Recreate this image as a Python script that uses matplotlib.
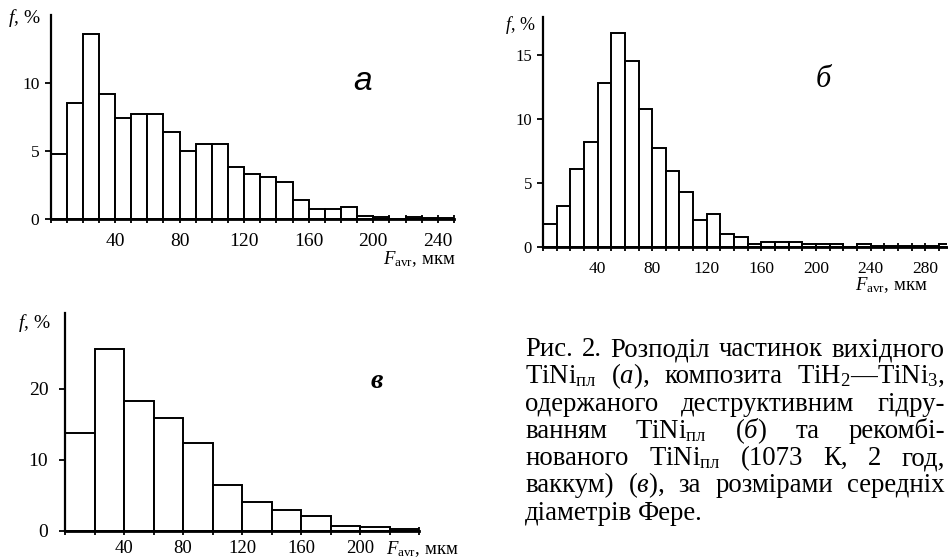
import matplotlib
matplotlib.use("Agg")
import matplotlib.pyplot as plt

plt.rcParams["font.family"] = ["Liberation Serif", "DejaVu Serif"]
plt.rcParams["mathtext.fontset"] = "custom"
plt.rcParams["mathtext.rm"] = "Liberation Serif"
plt.rcParams["mathtext.it"] = "Liberation Serif:italic"
plt.rcParams["mathtext.bf"] = "Liberation Serif:bold"

W, H = 948, 560

# ---- дані ----
# (а) вихідний TiNi, інтервал 10 мкм
a_starts = list(range(0, 250, 10))
a_vals = [4.8, 8.5, 13.6, 9.2, 7.4, 7.7, 7.7, 6.4, 5.0, 5.5, 5.5, 3.8, 3.3,
          3.1, 2.7, 1.4, 0.7, 0.7, 0.85, 0.2, 0.15, 0.0, 0.15, 0.1, 0.05]

# (б) композит TiH2-TiNi3, інтервал 10 мкм
b_starts = list(range(0, 300, 10))
b_vals = [1.8, 3.2, 6.1, 8.2, 12.8, 16.7, 14.5, 10.8, 7.7, 5.9, 4.3, 2.1, 2.6,
          1.0, 0.8, 0.2, 0.4, 0.4, 0.4, 0.2, 0.2, 0.2, 0.0, 0.2, 0.05, 0.05,
          0.05, 0.05, 0.05, 0.2]

# (в) рекомбінований TiNi, інтервал 20 мкм
c_starts = list(range(0, 240, 20))
c_vals = [13.8, 25.6, 18.3, 15.9, 12.4, 6.5, 4.0, 2.9, 2.1, 0.7, 0.5, 0.2]

caption = [
    ["Рис.", "2.", "Розподіл", "частинок", "вихідного"],
    [r"TiNi$_{\mathrm{пл}}$", r"($\mathit{а}$),", "композита", r"TiH$_2$—TiNi$_3$,"],
    ["одержаного", "деструктивним", "гідру-"],
    ["ванням", r"TiNi$_{\mathrm{пл}}$", r"($\mathit{б}$)", "та", "рекомбі-"],
    ["нованого", r"TiNi$_{\mathrm{пл}}$", "(1073", "К,", "2", "год,"],
    ["ваккум)", r"($\mathit{в}$),", "за", "розмірами", "середніх"],
    ["діаметрів", "Фере."],
]

fig = plt.figure(figsize=(W / 100, H / 100), dpi=100)


def rect(left, right, top, bottom):
    return [left / W, 1 - bottom / H, (right - left) / W, (bottom - top) / H]


def panel(r, starts, width, vals, xlim, ylim, xticks, yticks, xsize, ysize, xpad, ypad):
    ax = fig.add_axes(r)
    ax.bar(starts, vals, width=width, align="edge", color="white",
           edgecolor="black", linewidth=1.4, zorder=2)
    ax.set_xlim(*xlim)
    ax.set_ylim(*ylim)
    for s in ("top", "right"):
        ax.spines[s].set_visible(False)
    ax.spines["left"].set_linewidth(1.6)
    ax.spines["bottom"].set_linewidth(2.0)
    ax.set_xticks(xticks)
    ax.set_xticks(list(range(0, int(xlim[1]) + 1, width)), minor=True)
    ax.set_yticks(yticks)
    ax.tick_params(axis="x", which="both", direction="inout", length=6,
                   width=1.3, labelsize=xsize, pad=xpad)
    ax.tick_params(axis="y", direction="out", length=4, width=1.3,
                   labelsize=ysize, pad=ypad)
    ax.patch.set_alpha(0)
    return ax


# (а)
panel(rect(50.5, 454, 15, 219), a_starts, 10, a_vals, (0, 250), (0, 15),
      [40, 80, 120, 160, 200, 240], [0, 5, 10], 14, 12.5, 7, 4)
# (б)
panel(rect(543, 947, 16.6, 247), b_starts, 10, b_vals, (0, 296), (0, 18),
      [40, 80, 120, 160, 200, 240, 280], [0, 5, 10, 15], 12.5, 12, 7, 4)
# (в)
panel(rect(65, 419, 313, 530.7), c_starts, 20, c_vals, (0, 240), (0, 30.7),
      [40, 80, 120, 160, 200], [0, 10, 20], 13.5, 14, 3.5, 8)


def ftext(x, y, s, **kw):
    return fig.text(x / W, 1 - y / H, s, **kw)


# підписи осей
ftext(8, 18, r"$f$, %", fontsize=14, va="center", ha="left")
ftext(505, 25, r"$f$, %", fontsize=13, va="center", ha="left")
ftext(18, 323, r"$f$, %", fontsize=14, va="center", ha="left")
ftext(383, 259, r"$F_{\mathrm{avr}}$, мкм", fontsize=13.5, va="center", ha="left")
ftext(855, 285, r"$F_{\mathrm{avr}}$, мкм", fontsize=13.5, va="center", ha="left")
ftext(386, 549, r"$F_{\mathrm{avr}}$, мкм", fontsize=13.5, va="center", ha="left")

# літери панелей
ftext(363, 82, "a", fontsize=24, style="italic", family="Liberation Sans",
      ha="center", va="center")
ftext(823, 80, "б", fontsize=22, style="italic", ha="center", va="center")
ftext(377, 381, "в", fontsize=20, style="italic", weight="bold",
      ha="center", va="center")

# підпис до рисунка, вирівняний по ширині
renderer = fig.canvas.get_renderer()
x_left, x_right = 525, 945
base0, step = 356, 27.3
for i, words in enumerate(caption):
    y = base0 + i * step
    items = [ftext(0, y, w, fontsize=19.3, ha="left", va="baseline") for w in words]
    widths = [t.get_window_extent(renderer).width for t in items]
    if i == len(caption) - 1:
        gap = 6
    else:
        gap = (x_right - x_left - sum(widths)) / (len(words) - 1)
    x = x_left
    for t, w in zip(items, widths):
        t.set_x(x / W)
        x += w + gap

fig.savefig("out.png", dpi=100)
